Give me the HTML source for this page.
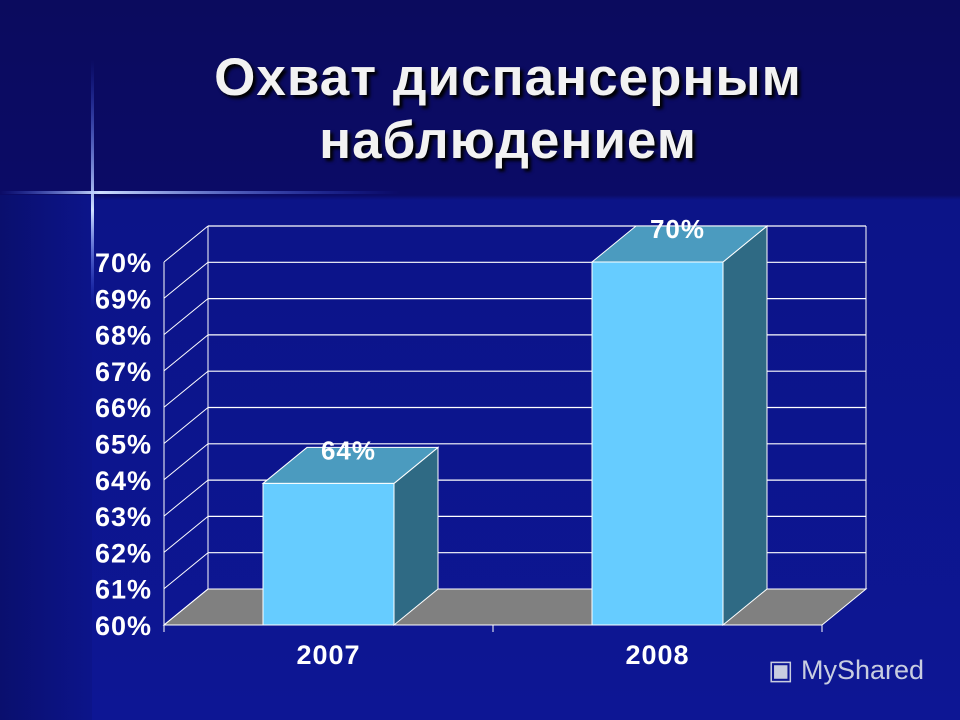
<!DOCTYPE html>
<html><head><meta charset="utf-8"><style>
body{margin:0;width:960px;height:720px;overflow:hidden;font-family:"Liberation Sans",sans-serif}
#bg{position:absolute;left:0;top:0;width:960px;height:720px;background:linear-gradient(180deg,#0b0b5e 0,#0b0b66 195px,#0c1488 200px,#0d1694 720px)}
#strip{position:absolute;left:0;top:195px;width:92px;height:525px;background:linear-gradient(90deg,#0a0f6e,#0c148a)}
h1{position:absolute;left:0;top:46px;width:1016px;margin:0;text-align:center;color:#f2f2f2;font-size:53px;line-height:63px;font-weight:bold;letter-spacing:1px;text-shadow:3px 3px 3px #000}
</style></head><body>
<div id="bg"></div>
<div id="strip"></div>
<svg width="960" height="720" style="position:absolute;left:0;top:0">
<defs><linearGradient id="hl" x1="0" x2="1"><stop offset="0" stop-color="#4a6cff" stop-opacity="0"/><stop offset=".25" stop-color="#cfe0ff"/><stop offset="1" stop-color="#3050ff" stop-opacity="0"/></linearGradient>
<linearGradient id="vl" x1="0" x2="0" y1="0" y2="1"><stop offset="0" stop-color="#3050ff" stop-opacity="0"/><stop offset=".6" stop-color="#cfe0ff"/><stop offset="1" stop-color="#3050ff" stop-opacity="0"/></linearGradient></defs>
<rect x="0" y="191" width="400" height="3" fill="url(#hl)"/>
<rect x="91" y="60" width="3" height="250" fill="url(#vl)"/>
</svg>
<h1>Охват диспансерным<br>наблюдением</h1>
<svg id="chart" width="960" height="720" style="position:absolute;left:0;top:0"></svg>
<div style="position:absolute;left:768px;top:655px;color:#c8cde0;font-size:27px">▣ MyShared</div>
<script>
const categories=["2007","2008"];
const values=[63.9,70];
const valueLabels=["64%","70%"];
const ticks=[60,61,62,63,64,65,66,67,68,69,70];
const tickLabels=["60%","61%","62%","63%","64%","65%","66%","67%","68%","69%","70%"];
const svg=document.getElementById('chart');
const NS='http://www.w3.org/2000/svg';
const X0=164,X1=822,Y0=625,Y1=262,DX=44,DY=-36,vmin=60,vmax=70;
const y=v=>Y0-(v-vmin)/(vmax-vmin)*(Y0-Y1);
function el(t,a,p){const e=document.createElementNS(NS,t);for(const k in a)e.setAttribute(k,a[k]);(p||svg).appendChild(e);return e;}
const floor=el('polygon',{points:`${X0},${Y0} ${X1},${Y0} ${X1+DX},${Y0+DY} ${X0+DX},${Y0+DY}`,fill:'#808080',stroke:'#fff','stroke-width':1});


el('line',{x1:X0+DX,y1:Y0+DY,x2:X0+DX,y2:y(vmax)+DY,stroke:'#fff','stroke-width':1});
el('line',{x1:X0,y1:Y0,x2:X0,y2:y(vmax),stroke:'#fff','stroke-width':1});
ticks.forEach((t,i)=>{
  const yy=y(t);
  if(t>vmin){const g=el('line',{x1:X0+DX,y1:yy+DY,x2:X1+DX,y2:yy+DY,stroke:'#fff','stroke-width':1.2});
  
  }
  el('line',{x1:X0,y1:yy,x2:X0+DX,y2:yy+DY,stroke:'#fff','stroke-width':1});
  const tx=el('text',{x:152,y:yy+10,'text-anchor':'end',fill:'#fff','font-size':27,'font-weight':'bold','letter-spacing':1,'font-family':'Liberation Sans, sans-serif'});
  tx.textContent=tickLabels[i];
  
  
});
el('line',{x1:X1+DX,y1:Y0+DY,x2:X1+DX,y2:y(vmax)+DY,stroke:'#fff','stroke-width':1});
el('line',{x1:X0,y1:Y0,x2:X1,y2:Y0,stroke:'#fff','stroke-width':1});
const slot=(X1-X0)/categories.length;
[0,1,2].forEach(i=>el('line',{x1:X0+i*slot,y1:Y0,x2:X0+i*slot,y2:Y0+7,stroke:'#fff','stroke-width':1}));
categories.forEach((c,i)=>{
  const cx=X0+slot*(i+0.5), bw=131, bx=cx-bw/2, top=y(values[i]);
  const g=el('g',{});
  
  
  el('polygon',{points:`${bx+bw},${Y0} ${bx+bw+DX},${Y0+DY} ${bx+bw+DX},${top+DY} ${bx+bw},${top}`,fill:'#2f6a84',stroke:'#fff','stroke-width':1},g);
  el('polygon',{points:`${bx},${top} ${bx+bw},${top} ${bx+bw+DX},${top+DY} ${bx+DX},${top+DY}`,fill:'#4b9bbf',stroke:'#fff','stroke-width':1},g);
  el('rect',{x:bx,y:top,width:bw,height:Y0-top,fill:'#66ccff',stroke:'#fff','stroke-width':1},g);
  const vl=el('text',{x:bx+bw/2+20,y:top-24,'text-anchor':'middle',fill:'#fff','font-size':26,'font-weight':'bold','letter-spacing':1,'font-family':'Liberation Sans, sans-serif'});
  vl.textContent=valueLabels[i];
  
  
  const xl=el('text',{x:cx,y:664,'text-anchor':'middle',fill:'#fff','font-size':27,'font-weight':'bold','letter-spacing':1,'font-family':'Liberation Sans, sans-serif'});
  xl.textContent=c;
  
  
});
</script>
</body></html>
